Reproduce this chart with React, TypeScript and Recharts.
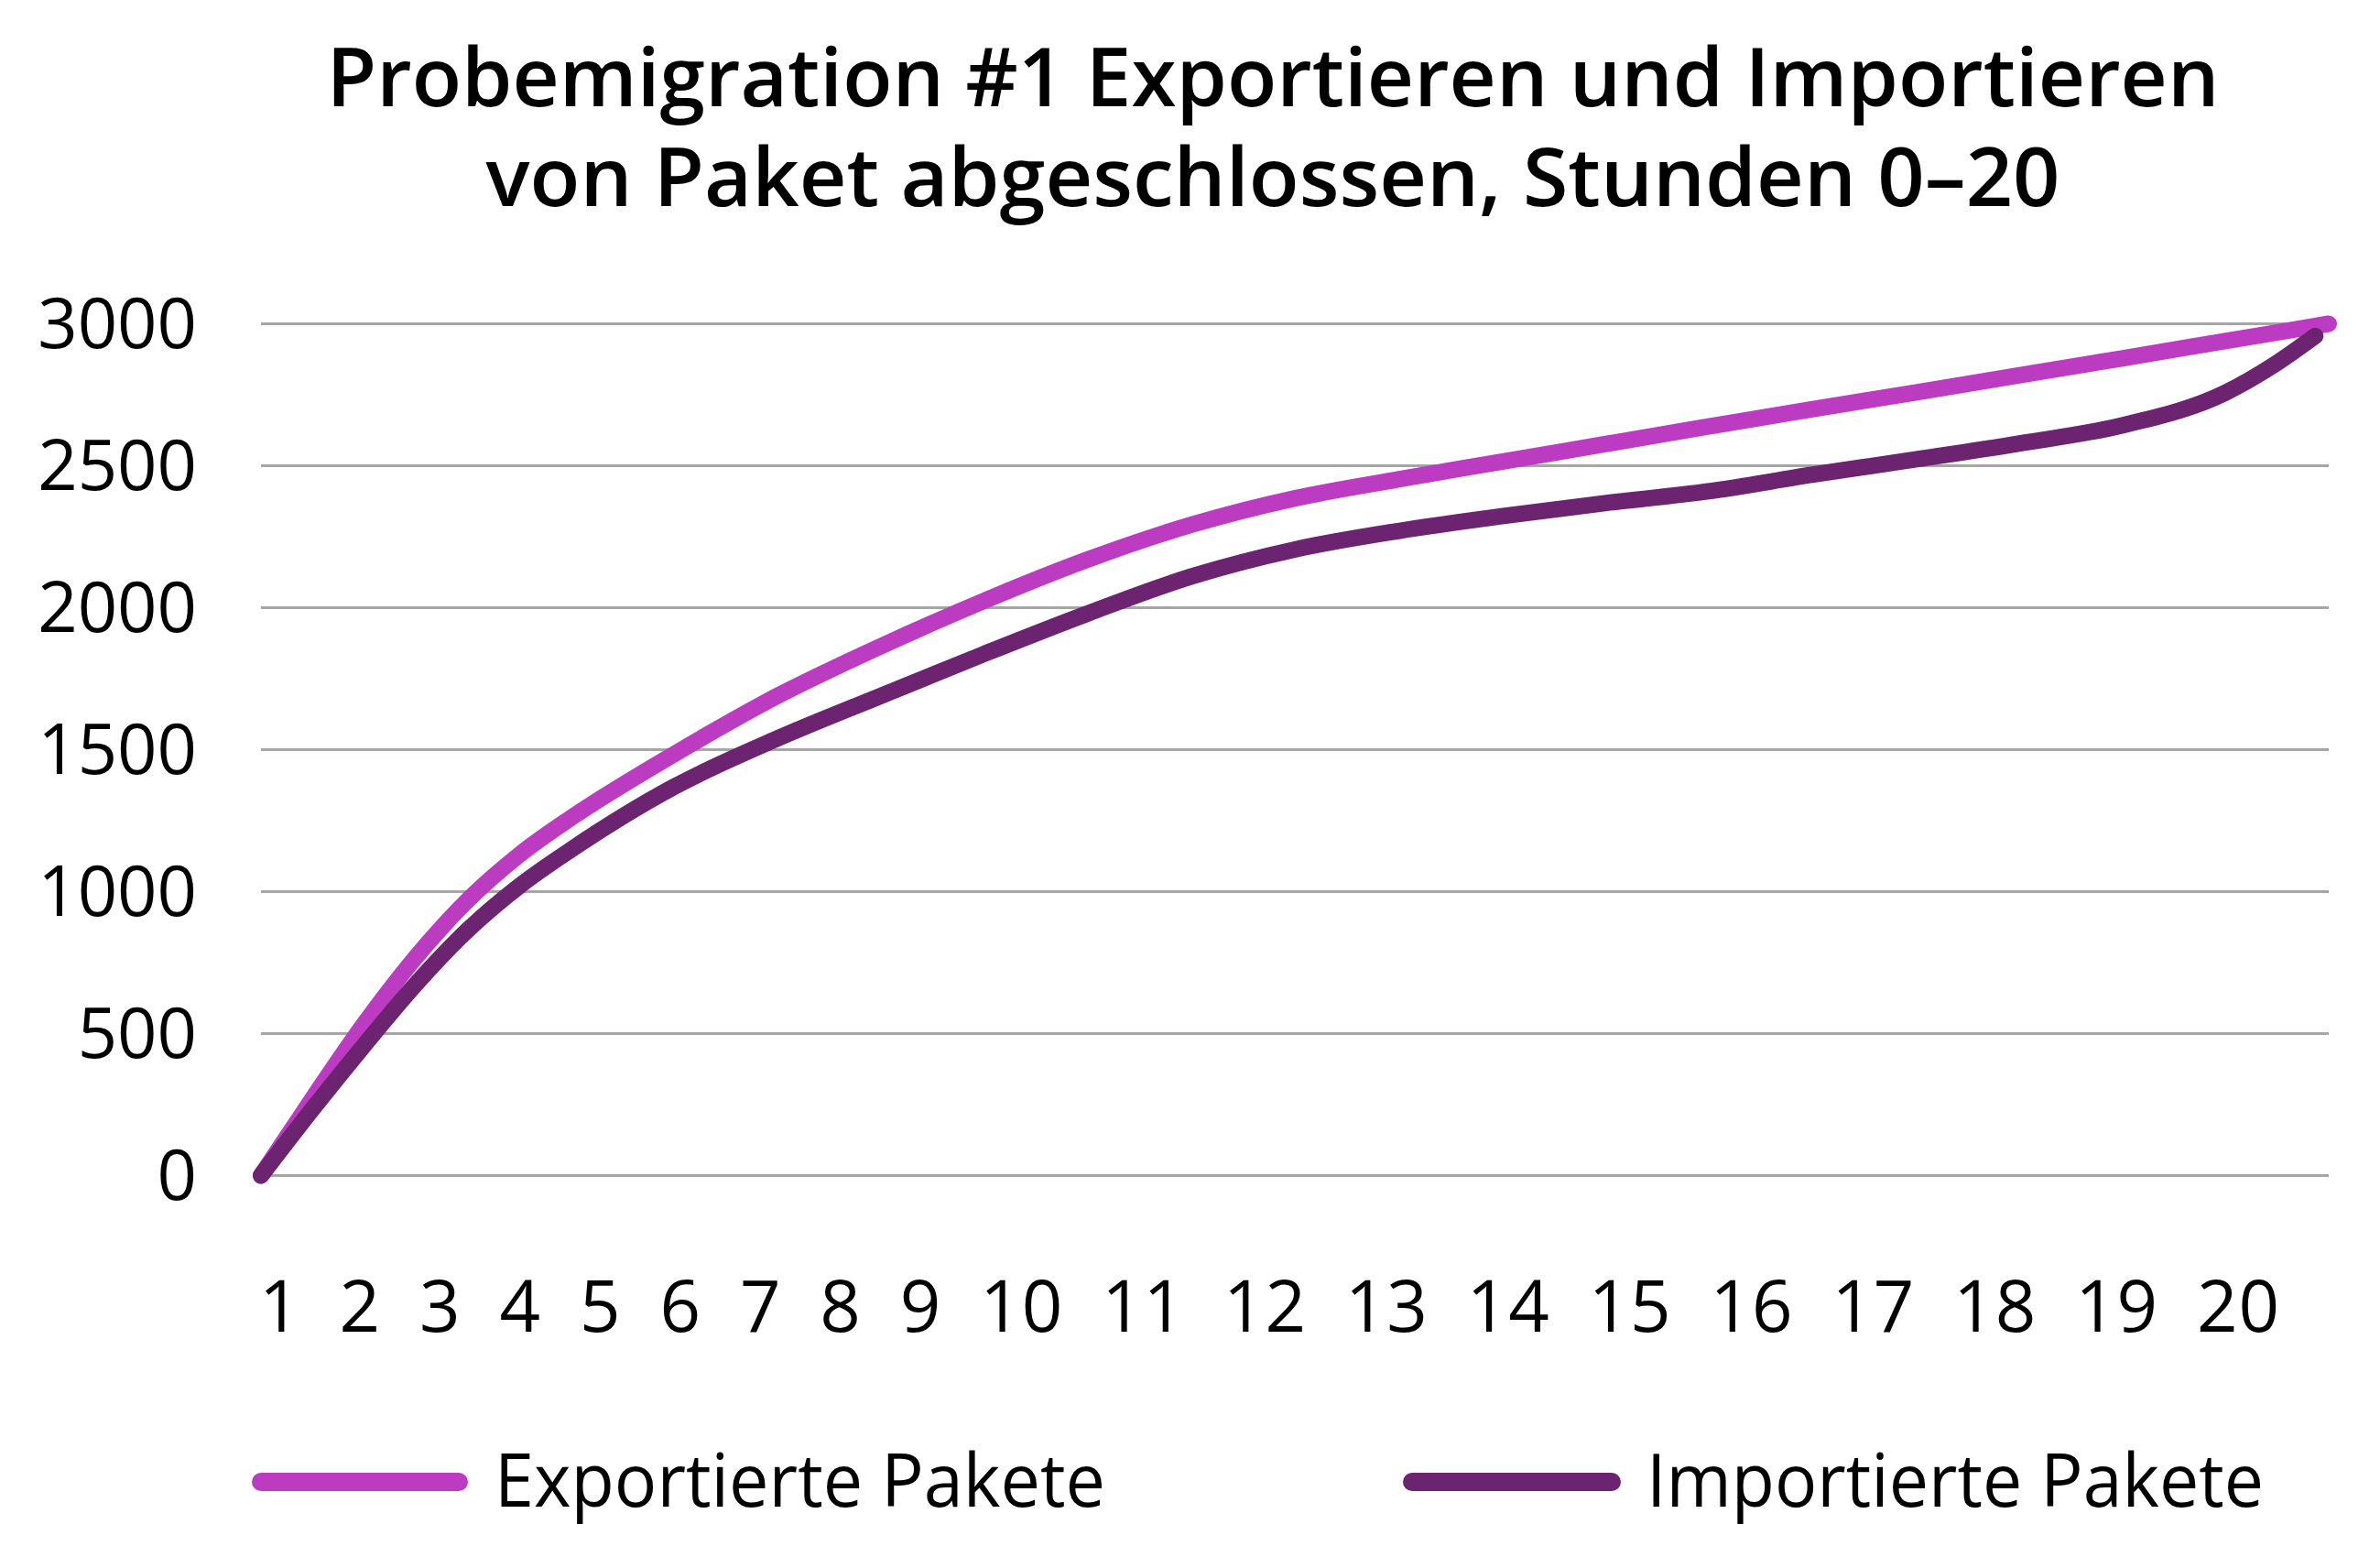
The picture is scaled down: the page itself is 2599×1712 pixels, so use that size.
import { LineChart, Line, XAxis, YAxis, CartesianGrid, Label } from "recharts"

const FONT = '"Open Sans", "Noto Sans", sans-serif'

const titleLines = [
  "Probemigration #1 Exportieren und Importieren",
  "von Paket abgeschlossen, Stunden 0–20",
]

const hourLabels = ["1", "2", "3", "4", "5", "6", "7", "8", "9", "10", "11", "12", "13", "14", "15", "16", "17", "18", "19", "20"]

const yTicks = [0, 500, 1000, 1500, 2000, 2500, 3000]

const exportedHours = [0, 0.5, 1, 1.5, 2, 2.5, 3, 4, 5, 6, 7, 8, 9, 10, 11, 12, 13, 14, 15, 16, 17, 18, 19, 20]
const exportedValues = [0, 272, 535, 770, 970, 1130, 1260, 1485, 1690, 1865, 2025, 2170, 2292, 2385, 2452, 2514, 2576, 2638, 2699, 2758, 2818, 2878, 2939, 3000]

const importedHours = [0, 0.5, 1, 1.5, 2, 2.5, 3, 4, 5, 6, 7, 8, 9, 10, 11, 12, 13, 14, 15, 16, 17, 18, 19, 19.5, 19.87]
const importedValues = [0, 235, 460, 675, 865, 1020, 1148, 1370, 1540, 1690, 1838, 1980, 2110, 2205, 2270, 2322, 2368, 2410, 2468, 2522, 2578, 2642, 2757, 2862, 2957]

const series = [
  { name: "Exportierte Pakete", color: "#BB3BC1", hours: exportedHours, values: exportedValues },
  { name: "Importierte Pakete", color: "#6C2370", hours: importedHours, values: importedValues },
]

const toRows = (hours: number[], values: number[]) =>
  hours.map((t, i) => ({ t, v: values[i] }))

function HourLabels(props: any) {
  const vb = props.viewBox || { x: 0, y: 0 }
  return (
    <text
      x={vb.x - 2}
      y={vb.y + 170}
      fontSize={78}
      fontFamily={FONT}
      fill="#000"
      textLength={2206}
      lengthAdjust="spacing"
    >
      {hourLabels.join("\u00a0\u00a0")}
    </text>
  )
}

// legend layout, one entry per series
const legendPos = [
  { lineX: [285, 501], textX: 540, textLen: 667 },
  { lineX: [1542, 1760], textX: 1798, textLen: 674 },
]

export default function App() {
  return (
    <div
      style={{
        position: "absolute",
        left: 0,
        top: 0,
        width: 2599,
        height: 1712,
        background: "#fff",
        fontFamily: FONT,
      }}
    >
      <LineChart
        width={2599}
        height={1712}
        margin={{ top: 353.5, right: 56, left: 85, bottom: 228.5 }}
      >
        <CartesianGrid vertical={false} stroke="#A6A6A6" strokeWidth={3} />
        <XAxis
          dataKey="t"
          type="number"
          domain={[0, 20]}
          height={200}
          tick={false}
          axisLine={false}
          tickLine={false}
        >
          <Label content={HourLabels} />
        </XAxis>
        <YAxis
          domain={[0, 3000]}
          ticks={yTicks}
          width={200}
          axisLine={false}
          tickLine={false}
          tickSize={0}
          tickMargin={70}
          tick={{ fill: "#000", fontSize: 76, fontFamily: FONT }}
        />
        {series.map((s) => (
          <Line
            key={s.name}
            data={toRows(s.hours, s.values)}
            dataKey="v"
            name={s.name}
            type="monotone"
            stroke={s.color}
            strokeWidth={18}
            strokeLinecap="round"
            dot={false}
            activeDot={false}
            isAnimationActive={false}
          />
        ))}
      </LineChart>

      <svg
        width={2599}
        height={1712}
        style={{ position: "absolute", left: 0, top: 0, pointerEvents: "none" }}
      >
        {titleLines.map((line, i) => (
          <text
            key={line}
            x={1390}
            y={115.5 + i * 109}
            textAnchor="middle"
            fontSize={88}
            fontWeight={600}
            fontFamily={FONT}
            fill="#000"
            textLength={i === 0 ? 2067 : 1719}
            lengthAdjust="spacingAndGlyphs"
          >
            {line}
          </text>
        ))}
        {series.map((s, i) => (
          <g key={s.name}>
            <line
              x1={legendPos[i].lineX[0]}
              x2={legendPos[i].lineX[1]}
              y1={1618}
              y2={1618}
              stroke={s.color}
              strokeWidth={20}
              strokeLinecap="round"
            />
            <text
              x={legendPos[i].textX}
              y={1645}
              fontSize={80}
              fontFamily={FONT}
              fill="#000"
              textLength={legendPos[i].textLen}
              lengthAdjust="spacingAndGlyphs"
            >
              {s.name}
            </text>
          </g>
        ))}
      </svg>
    </div>
  )
}
